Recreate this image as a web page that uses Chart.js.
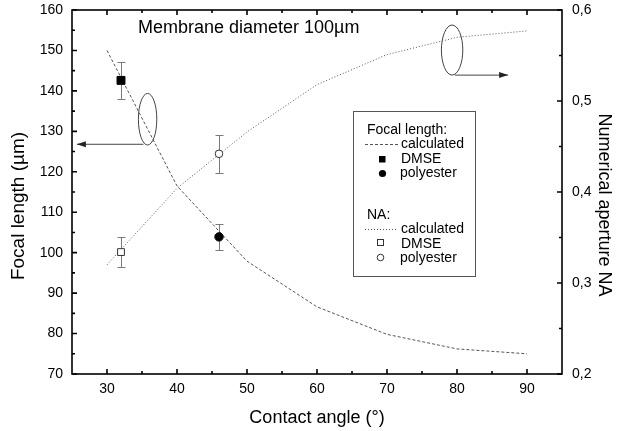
<!DOCTYPE html>
<html>
<head>
<meta charset="utf-8">
<script src="https://cdn.jsdelivr.net/npm/chart.js@4.4.0/dist/chart.umd.min.js"></script>
<style>
  html, body { margin: 0; padding: 0; background: #fff; }
</style>
</head>
<body>
<canvas id="lensChart" width="618" height="431"></canvas>
<script>
const FONT = '"Liberation Sans", Arial, sans-serif';

// calculated curves, contact angle in degrees
const calcAngles = [30, 40, 50, 60, 70, 80, 90];
const focalCalc = [150, 116.5, 97.9, 86.6, 79.8, 76.2, 75.0];
const naCalc = [0.320, 0.404, 0.466, 0.518, 0.551, 0.570, 0.577];

// measured points (DMSE, polyester)
const measAngles = [32, 46];
const focalMeas = [142.6, 103.9];
const focalErr = [4.5, 3.3];
const naMeas = [0.334, 0.442];
const naErr = [0.016, 0.021];

// axis ticks
const xTicks = [30, 40, 50, 60, 70, 80, 90];
const yTicks = [70, 80, 90, 100, 110, 120, 130, 140, 150, 160];
const y2Ticks = [0.2, 0.3, 0.4, 0.5, 0.6];

const pts = (xs, ys) => xs.map((x, i) => ({x: x, y: ys[i]}));

Chart.defaults.font.family = FONT;
Chart.defaults.font.size = 14;
Chart.defaults.color = '#000';

const errorBars = {
  id: 'errorBars',
  beforeDatasetsDraw(chart) {
    const {ctx, scales} = chart;
    ctx.save();
    ctx.strokeStyle = '#7a7a7a';
    ctx.lineWidth = 1;
    const draw = (vals, errs, axis) => {
      measAngles.forEach((a, i) => {
        const x = Math.round(scales.x.getPixelForValue(a)) + 0.5;
        const top = Math.round(scales[axis].getPixelForValue(vals[i] + errs[i])) + 0.5;
        const bot = Math.round(scales[axis].getPixelForValue(vals[i] - errs[i])) + 0.5;
        ctx.beginPath();
        ctx.moveTo(x, top); ctx.lineTo(x, bot);
        ctx.moveTo(x - 4, top); ctx.lineTo(x + 4, top);
        ctx.moveTo(x - 4, bot); ctx.lineTo(x + 4, bot);
        ctx.stroke();
      });
    };
    draw(focalMeas, focalErr, 'y');
    draw(naMeas, naErr, 'y2');
    ctx.restore();
  }
};

const frameTicks = {
  id: 'frameTicks',
  afterDatasetsDraw(chart) {
    const {ctx, chartArea: a, scales: {x, y, y2}} = chart;
    ctx.save();
    ctx.strokeStyle = '#000';
    ctx.lineWidth = 1.6;
    ctx.strokeRect(a.left, a.top, a.right - a.left, a.bottom - a.top);
    ctx.beginPath();
    // x: majors + minors, bottom and top
    for (let v = xTicks[0]; v <= xTicks[xTicks.length - 1]; v += 5) {
      const len = v % 10 === 0 ? 5 : 3;
      const px = x.getPixelForValue(v);
      ctx.moveTo(px, a.bottom); ctx.lineTo(px, a.bottom - len);
      ctx.moveTo(px, a.top); ctx.lineTo(px, a.top + len);
    }
    for (let v = yTicks[0]; v <= yTicks[yTicks.length - 1]; v += 5) {
      const len = v % 10 === 0 ? 5 : 3;
      const py = y.getPixelForValue(v);
      ctx.moveTo(a.left, py); ctx.lineTo(a.left + len, py);
    }
    for (let k = 4; k <= 12; k++) {
      const len = k % 2 === 0 ? 5 : 3;
      const py = y2.getPixelForValue(k * 0.05);
      ctx.moveTo(a.right, py); ctx.lineTo(a.right - len, py);
    }
    ctx.stroke();
    ctx.restore();
  }
};

function ellipseArrow(ctx, cx, cy, rx, ry, ax0, ax1, ay) {
  ctx.beginPath();
  ctx.ellipse(cx, cy, rx, ry, 0, 0, Math.PI * 2);
  ctx.stroke();
  ctx.beginPath();
  ctx.moveTo(ax0, ay);
  ctx.lineTo(ax1, ay);
  ctx.stroke();
  const dir = ax1 > ax0 ? 1 : -1;
  ctx.beginPath();
  ctx.moveTo(ax1, ay);
  ctx.lineTo(ax1 - dir * 9, ay - 3);
  ctx.lineTo(ax1 - dir * 9, ay + 3);
  ctx.closePath();
  ctx.fill();
}

const annotations = {
  id: 'annotations',
  afterDraw(chart) {
    const {ctx, scales: {x, y}} = chart;
    ctx.save();
    ctx.strokeStyle = '#444';
    ctx.fillStyle = '#222';
    ctx.lineWidth = 1;
    // ellipse on focal curve, arrow to left axis
    ellipseArrow(ctx, x.getPixelForValue(35.8), y.getPixelForValue(133.0), 9.2, 25.8,
      x.getPixelForValue(35.2), x.getPixelForValue(25.7), y.getPixelForValue(126.8));
    // ellipse on NA curve, arrow to right axis
    ellipseArrow(ctx, x.getPixelForValue(79.3), y.getPixelForValue(150.1), 10.7, 25,
      x.getPixelForValue(79.7), x.getPixelForValue(87.3), y.getPixelForValue(143.9));

    ctx.fillStyle = '#000';
    ctx.textBaseline = 'alphabetic';
    ctx.font = '18px ' + FONT;
    ctx.fillText('Membrane diameter 100\u00b5m', 138, 33);

    // axis titles
    ctx.textAlign = 'center';
    ctx.fillText('Contact angle (\u00b0)', 317, 423);
    ctx.save();
    ctx.translate(23.5, 206);
    ctx.rotate(-Math.PI / 2);
    ctx.font = '19px ' + FONT;
    ctx.fillText('Focal length (\u00b5m)', 0, 0);
    ctx.restore();
    ctx.save();
    ctx.translate(599, 205);
    ctx.rotate(Math.PI / 2);
    ctx.fillText('Numerical aperture NA', 0, 0);
    ctx.restore();

    // legend box
    ctx.textAlign = 'left';
    ctx.strokeStyle = '#555';
    ctx.strokeRect(353.5, 111.5, 122, 165);
    ctx.font = '14px ' + FONT;
    ctx.fillText('Focal length:', 367, 133.5);
    ctx.fillText('calculated', 401, 148);
    ctx.fillText('DMSE', 401, 162.5);
    ctx.fillText('polyester', 400, 177);
    ctx.fillText('NA:', 367, 218.5);
    ctx.fillText('calculated', 401, 233);
    ctx.fillText('DMSE', 401, 247.5);
    ctx.fillText('polyester', 400, 262);

    ctx.strokeStyle = '#555';
    ctx.setLineDash([3, 2]);
    ctx.beginPath(); ctx.moveTo(365, 144.5); ctx.lineTo(398, 144.5); ctx.stroke();
    ctx.setLineDash([1, 2]);
    ctx.beginPath(); ctx.moveTo(365, 229.5); ctx.lineTo(398, 229.5); ctx.stroke();
    ctx.setLineDash([]);

    ctx.fillStyle = '#000';
    ctx.fillRect(379, 156, 6.5, 6.5);
    ctx.beginPath(); ctx.arc(382.5, 173.5, 3.6, 0, Math.PI * 2); ctx.fill();
    ctx.strokeStyle = '#333';
    ctx.strokeRect(377.5, 239.5, 6, 6);
    ctx.beginPath(); ctx.arc(380.5, 257.5, 3.3, 0, Math.PI * 2); ctx.stroke();
    ctx.restore();
  }
};

// fixed axis box sizes so the plot area lands where the reference has it
const fixVertical = (w) => (s) => { s.width = w; s.paddingTop = 0; s.paddingBottom = 0; };

new Chart(document.getElementById('lensChart'), {
  type: 'scatter',
  data: {
    datasets: [
      {
        label: 'Focal length DMSE',
        data: pts(measAngles.slice(0, 1), focalMeas.slice(0, 1)),
        yAxisID: 'y',
        pointStyle: 'rect',
        pointRadius: 5.6,
        backgroundColor: '#000',
        borderColor: '#000',
        borderWidth: 1
      },
      {
        label: 'Focal length polyester',
        data: pts(measAngles.slice(1), focalMeas.slice(1)),
        yAxisID: 'y',
        pointStyle: 'circle',
        pointRadius: 4.2,
        backgroundColor: '#000',
        borderColor: '#000',
        borderWidth: 1
      },
      {
        label: 'NA DMSE',
        data: pts(measAngles.slice(0, 1), naMeas.slice(0, 1)),
        yAxisID: 'y2',
        pointStyle: 'rect',
        pointRadius: 4.8,
        backgroundColor: '#fff',
        borderColor: '#333',
        borderWidth: 1
      },
      {
        label: 'NA polyester',
        data: pts(measAngles.slice(1), naMeas.slice(1)),
        yAxisID: 'y2',
        pointStyle: 'circle',
        pointRadius: 3.8,
        backgroundColor: '#fff',
        borderColor: '#333',
        borderWidth: 1
      },
      {
        label: 'Focal length calculated',
        data: pts(calcAngles, focalCalc),
        yAxisID: 'y',
        showLine: true,
        borderColor: '#555',
        borderWidth: 1,
        borderDash: [3, 2],
        pointRadius: 0
      },
      {
        label: 'NA calculated',
        data: pts(calcAngles, naCalc),
        yAxisID: 'y2',
        showLine: true,
        borderColor: '#555',
        borderWidth: 1,
        borderDash: [1, 2],
        pointRadius: 0
      }
    ]
  },
  options: {
    responsive: false,
    animation: false,
    layout: { padding: { top: 10, left: 0, right: 0, bottom: 0 } },
    plugins: {
      legend: { display: false },
      tooltip: { enabled: false }
    },
    scales: {
      x: {
        type: 'linear',
        position: 'bottom',
        min: 25,
        max: 95,
        grid: { display: false, drawTicks: false },
        border: { display: false },
        afterBuildTicks: (s) => { s.ticks = xTicks.map(v => ({value: v})); },
        afterFit: (s) => { s.height = 57; s.paddingLeft = 0; s.paddingRight = 0; },
        ticks: { padding: 7, maxRotation: 0 }
      },
      y: {
        type: 'linear',
        position: 'left',
        min: 70,
        max: 160,
        grid: { display: false, drawTicks: false },
        border: { display: false },
        afterBuildTicks: (s) => { s.ticks = yTicks.map(v => ({value: v})); },
        afterFit: fixVertical(72),
        ticks: { padding: 9 }
      },
      y2: {
        type: 'linear',
        position: 'right',
        min: 0.2,
        max: 0.6,
        grid: { display: false, drawTicks: false },
        border: { display: false },
        afterBuildTicks: (s) => { s.ticks = y2Ticks.map(v => ({value: v})); },
        afterFit: fixVertical(56),
        ticks: {
          padding: 10,
          callback: (v) => v.toFixed(1).replace('.', ',')
        }
      }
    }
  },
  plugins: [errorBars, frameTicks, annotations]
});
</script>
</body>
</html>
